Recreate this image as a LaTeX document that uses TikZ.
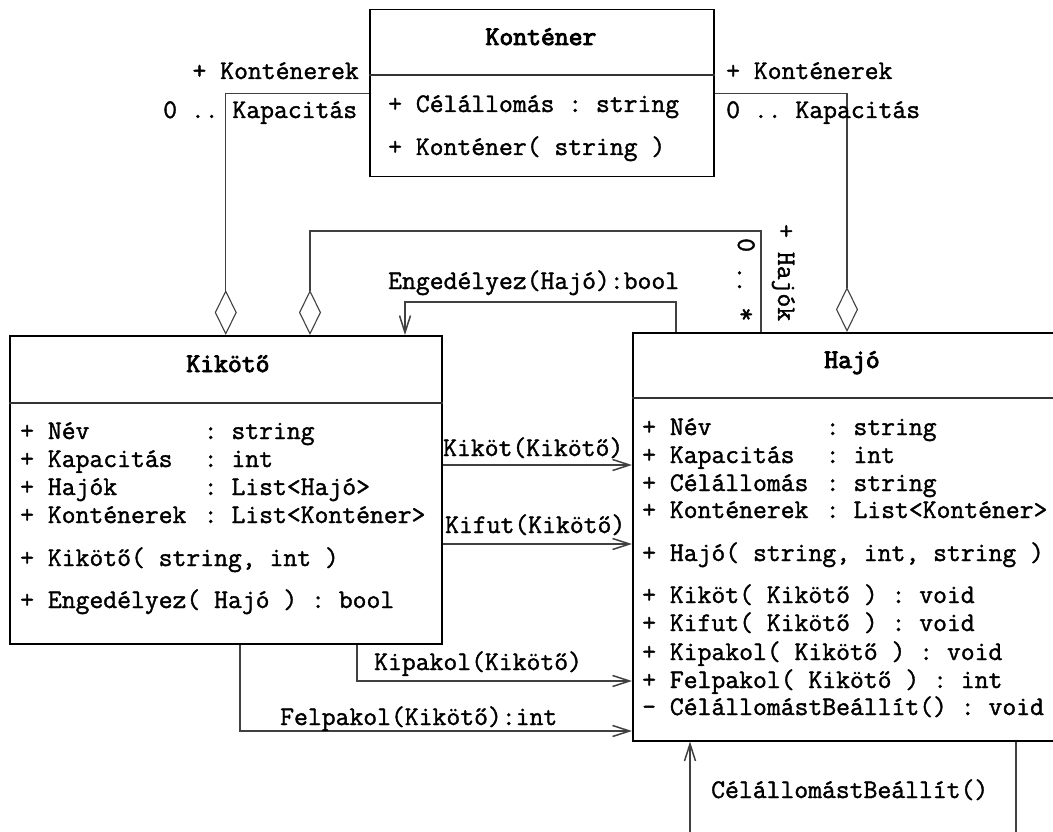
\documentclass[tikz,border=0pt]{standalone}
\usepackage{fontspec}
\setmonofont{Latin Modern Mono}[UprightFeatures={FakeBold=1.4}, BoldFont={Latin Modern Mono}, BoldFeatures={FakeBold=3.5}]
\usetikzlibrary{arrows.meta}
\newcommand\umlfont{\fontsize{26.9}{30}\selectfont\ttfamily}
\newcommand\attr[2]{\makebox[6.825em][l]{#1}#2}
\tikzset{
  box/.style={draw=black, line width=1.5pt, inner sep=0pt, anchor=north west, fill=none},
  txt/.style={inner sep=0pt, anchor=base west, font=\umlfont},
  ttl/.style={inner sep=0pt, anchor=base, font=\umlfont\bfseries},
  conn/.style={line width=1.1pt, draw=black!75},
  agg/.style={conn, -{Diamond[open,length=45pt,width=22pt,line width=1.1pt]}},
  msg/.style={conn, -{Straight Barb[length=17pt,width=11pt,line width=1.5pt]}},
  divider/.style={line width=1.2pt, draw=black!80}
}
\begin{document}
\begin{tikzpicture}[x=1pt,y=-1pt]
\useasboundingbox (0,0) rectangle (1053,832);
\clip (0,0) rectangle (1053,832);
\fill[white] (0,0) rectangle (1053,832);

% Konténer
\node[box, minimum width=344pt, minimum height=167pt] (kont) at (369,9) {};
\draw[divider] (kont.west |- 0,75) -- (kont.east |- 0,75);
\node[ttl] (kontT) at (541,45) {Konténer};
\node[txt] (kont1) at (388,112) {+ Célállomás : string};
\node[txt] (kont2) at (388,155) {+ Konténer( string )};

% Kikötő
\node[box, minimum width=432pt, minimum height=308pt] (kik) at (9,335) {};
\draw[divider] (kik.west |- 0,403) -- (kik.east |- 0,403);
\node[ttl] (kikT) at (228,372) {Kikötő};
\node[txt] (kik1) at (20,439) {\attr{+ Név}{: string}};
\node[txt] (kik2) at (20,467) {\attr{+ Kapacitás}{: int}};
\node[txt] (kik3) at (20,495) {\attr{+ Hajók}{: List<Hajó>}};
\node[txt] (kik4) at (20,523) {\attr{+ Konténerek}{: List<Konténer>}};
\node[txt] (kik5) at (20,566) {+ Kikötő( string, int )};
\node[txt] (kik6) at (20,608) {+ Engedélyez( Hajó ) : bool};

% Hajó
\node[box, minimum width=440pt, minimum height=408pt] (haj) at (632,332) {};
\draw[divider] (haj.west |- 0,398) -- (haj.east |- 0,398);
\node[ttl] (hajT) at (852,368) {Hajó};
\node[txt] (haj1) at (642,435) {\attr{+ Név}{: string}};
\node[txt] (haj2) at (642,463) {\attr{+ Kapacitás}{: int}};
\node[txt] (haj3) at (642,491) {\attr{+ Célállomás}{: string}};
\node[txt] (haj4) at (642,518) {\attr{+ Konténerek}{: List<Konténer>}};
\node[txt] (haj5) at (642,561) {+ Hajó( string, int, string )};
\node[txt] (haj6) at (642,603) {+ Kiköt( Kikötő ) : void};
\node[txt] (haj7) at (642,631) {+ Kifut( Kikötő ) : void};
\node[txt] (haj8) at (642,660) {+ Kipakol( Kikötő ) : void};
\node[txt] (haj9) at (642,688) {+ Felpakol( Kikötő ) : int};
\node[txt] (haj10) at (642,715) {- CélállomástBeállít() : void};

% aggregations Konténer
\draw[agg] (kont.west) -| (kik.north);
\draw[agg] (kont.east) -| (haj.north -| 847,0);
\node[txt, anchor=base east] (lk1) at (359,79) {+ Konténerek};
\node[txt] (lk2) at (163,118) {0 .. Kapacitás};
\node[txt] (rk1) at (726,79) {+ Konténerek};
\node[txt] (rk2) at (726,118) {0 .. Kapacitás};

% aggregation Hajók
\coordinate (hjA) at (761,231);
\coordinate (hjB) at (310,231);
\draw[agg] (haj.north -| hjA) -- (hjA) -- (hjB) -- (kik.north -| hjB);
\node[txt, rotate=-90] (hjm) at (738,238) {0 .. *};
\node[txt, rotate=-90] (hjr) at (778,224) {+ Hajók};

% Engedélyez
\coordinate (enA) at (676,302);
\coordinate (enB) at (405,302);
\draw[msg] (haj.north -| enA) -- (enA) -- (enB) -- (kik.north -| enB);
\node[txt] (enL) at (388,289) {Engedélyez(Hajó):bool};

% Kiköt, Kifut
\draw[msg] (kik.east |- 0,465) -- (haj.west |- 0,465);
\node[txt] (kiL) at (443,456) {Kiköt(Kikötő)};
\draw[msg] (kik.east |- 0,544) -- (haj.west |- 0,544);
\node[txt] (kfL) at (445,533) {Kifut(Kikötő)};

% Kipakol, Felpakol
\coordinate (kpA) at (357,681);
\draw[msg] (kik.south -| kpA) -- (kpA) -- (haj.west |- kpA);
\node[txt] (kpL) at (374,670) {Kipakol(Kikötő)};
\coordinate (fpA) at (240,731);
\draw[msg] (kik.south -| fpA) -- (fpA) -- (haj.west |- fpA);
\node[txt] (fpL) at (280,725) {Felpakol(Kikötő):int};

% self loop
\coordinate (slA) at (1016,834);
\coordinate (slB) at (690,834);
\draw[msg] (haj.south -| slA) -- (slA) -- (slB) -- (haj.south -| slB);
\node[txt] (slL) at (711,798) {CélállomástBeállít()};
\end{tikzpicture}
\end{document}
